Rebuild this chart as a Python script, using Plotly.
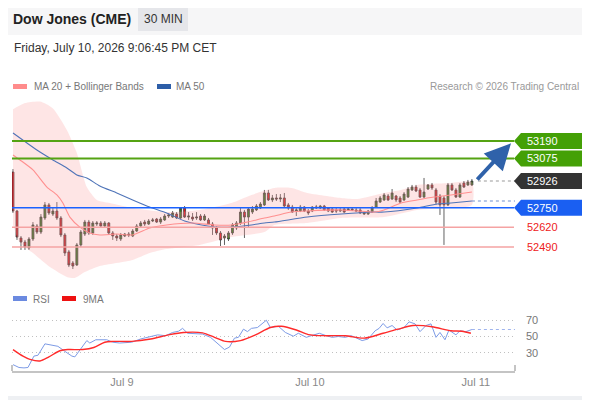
import plotly.graph_objects as go

FONT = "Liberation Sans, Arial, sans-serif"
# the page puts the plot 8px in from the top left corner of the window,
# so the figure fills the rest of the 590x400 window
OFF = 8
W, H = 590 - OFF, 400 - OFF

# 30 min candles, Dow Jones futures (CME), last candle Jul 10 ~21:00 CET
open_ = [52985, 52728, 52550, 52523, 52484, 52543, 52629, 52589, 52682, 52768,
         52708, 52728, 52682, 52570, 52458, 52385, 52372, 52504, 52576, 52655,
         52583, 52642, 52649, 52629, 52649, 52583, 52563, 52543, 52563, 52576,
         52563, 52596, 52629, 52655, 52642, 52662, 52675, 52655, 52669, 52695,
         52688, 52708, 52682, 52748, 52688, 52688, 52682, 52695, 52669, 52669,
         52642, 52616, 52583, 52550, 52543, 52583, 52616, 52649, 52721, 52688,
         52721, 52735, 52748, 52768, 52847, 52801, 52814, 52807, 52814, 52768,
         52754, 52728, 52728, 52754, 52728, 52728, 52748, 52748, 52761, 52748,
         52741, 52735, 52728, 52741, 52735, 52741, 52735, 52735, 52708, 52708,
         52721, 52754, 52787, 52801, 52827, 52807, 52827, 52814, 52801, 52820,
         52867, 52886, 52867, 52820, 52873, 52900, 52867, 52827, 52814, 52768,
         52900, 52867, 52820, 52913, 52900, 52900]
high = [53005, 52735, 52563, 52537, 52556, 52655, 52642, 52708, 52787, 52781,
        52748, 52787, 52695, 52583, 52471, 52398, 52517, 52603, 52669, 52669,
        52662, 52662, 52662, 52662, 52655, 52596, 52576, 52583, 52583, 52589,
        52609, 52642, 52662, 52669, 52675, 52682, 52682, 52688, 52708, 52715,
        52728, 52721, 52754, 52761, 52721, 52715, 52721, 52708, 52708, 52682,
        52655, 52629, 52596, 52576, 52596, 52649, 52662, 52748, 52735, 52754,
        52761, 52774, 52787, 52867, 52867, 52834, 52840, 52840, 52847, 52781,
        52768, 52748, 52768, 52761, 52741, 52761, 52768, 52768, 52768, 52754,
        52748, 52748, 52748, 52748, 52754, 52754, 52748, 52748, 52728, 52735,
        52761, 52814, 52827, 52847, 52840, 52873, 52834, 52827, 52853, 52886,
        52900, 52900, 52880, 52946, 52906, 52913, 52880, 52840, 52827, 52913,
        52913, 52880, 52913, 52926, 52933, 52939]
low = [52715, 52537, 52471, 52471, 52471, 52530, 52576, 52576, 52669, 52702,
       52695, 52669, 52556, 52431, 52358, 52345, 52365, 52490, 52563, 52570,
       52570, 52629, 52616, 52616, 52570, 52537, 52530, 52530, 52556, 52556,
       52556, 52589, 52622, 52629, 52636, 52655, 52649, 52642, 52662, 52682,
       52682, 52675, 52675, 52682, 52669, 52662, 52669, 52662, 52662, 52636,
       52570, 52570, 52497, 52504, 52530, 52570, 52603, 52636, 52550, 52616,
       52708, 52728, 52741, 52761, 52794, 52787, 52794, 52787, 52754, 52735,
       52715, 52695, 52721, 52721, 52702, 52721, 52741, 52741, 52728, 52721,
       52715, 52715, 52721, 52715, 52728, 52728, 52721, 52708, 52702, 52702,
       52715, 52748, 52781, 52794, 52794, 52801, 52787, 52781, 52794, 52814,
       52860, 52853, 52814, 52814, 52867, 52867, 52768, 52702, 52504, 52761,
       52860, 52814, 52814, 52880, 52893, 52893]
close = [52728, 52556, 52523, 52490, 52543, 52636, 52589, 52688, 52768, 52715,
         52728, 52682, 52570, 52451, 52372, 52365, 52504, 52589, 52655, 52583,
         52649, 52649, 52629, 52649, 52583, 52563, 52550, 52570, 52576, 52570,
         52596, 52629, 52649, 52642, 52662, 52669, 52655, 52675, 52695, 52702,
         52715, 52682, 52748, 52688, 52695, 52675, 52688, 52669, 52695, 52642,
         52616, 52583, 52537, 52563, 52583, 52636, 52649, 52721, 52688, 52741,
         52741, 52761, 52774, 52847, 52801, 52814, 52807, 52814, 52761, 52748,
         52721, 52735, 52754, 52728, 52715, 52754, 52754, 52761, 52735, 52728,
         52721, 52728, 52735, 52721, 52741, 52735, 52728, 52715, 52715, 52728,
         52748, 52794, 52814, 52834, 52801, 52847, 52801, 52787, 52840, 52873,
         52886, 52860, 52820, 52853, 52900, 52880, 52787, 52768, 52768, 52900,
         52867, 52820, 52900, 52886, 52919, 52926]

# indicator lines (candle index, value)
ma20_idx = [0, 1.75, 5, 8.5, 11, 12.5, 14.25, 16.75, 19.25, 21.75, 26, 30, 34.25,
            38.5, 45, 50.5, 54.75, 58.75, 63, 65.5, 69.75, 73.75, 82.25, 86.25,
            90.5, 93, 97.25, 101.25, 105.5, 109.75, 115]
ma20 = [53098, 53065, 52999, 52886, 52834, 52781, 52688, 52622, 52583, 52570, 52576,
        52570, 52616, 52636, 52649, 52636, 52636, 52655, 52682, 52695, 52721, 52728,
        52735, 52728, 52721, 52735, 52781, 52801, 52820, 52834, 52853]

ma50_idx = [0, 3.5, 6.75, 10, 13.5, 16, 18.5, 21.75, 26, 30, 34.25, 38.5, 43, 48.75,
            51.25, 54.75, 59.75, 63, 65.5, 73.75, 82.25, 90.5, 93, 101.25, 106.25,
            109.75, 115]
ma50 = [53243, 53177, 53117, 53065, 53012, 52966, 52946, 52893, 52847, 52801, 52754,
        52715, 52662, 52629, 52622, 52622, 52636, 52649, 52655, 52688, 52708, 52721,
        52721, 52748, 52774, 52781, 52794]

bb_up_idx = [0, 3, 6.75, 10, 13.5, 16, 18.5, 21, 24.25, 30, 38.5, 46.75, 54.75,
             59.75, 65.5, 69.75, 73.75, 82.25, 86.25, 93, 97.25, 101.25, 109.75, 115]
bb_up = [53400, 53440, 53450, 53405, 53263, 53111, 52886, 52801, 52781, 52748, 52721,
         52735, 52781, 52834, 52880, 52880, 52847, 52814, 52807, 52847, 52867, 52900,
         52913, 52919]
bb_lo_idx = [0, 1.75, 5, 9.25, 13.5, 15.5, 18, 21.75, 30, 34.25, 38.5, 46.75, 54.75,
             63, 65.5, 73.75, 82.25, 93, 101.25, 109.75, 115]
bb_lo = [52636, 52517, 52451, 52358, 52293, 52286, 52325, 52365, 52405, 52451, 52477,
         52504, 52556, 52589, 52636, 52649, 52682, 52688, 52735, 52748, 52768]

rsi_idx = [0, 1.5, 2.75, 3.75, 5.25, 6.25, 8, 9.5, 11.25, 13.25, 14.75, 15.5, 17,
           18.5, 19.25, 20.75, 23.5, 25, 26.75, 29.75, 32, 34.5, 36.25, 38.25, 40,
           41.5, 42.5, 43.75, 47.5, 49.5, 51.25, 53, 54.25, 55.5, 56.5, 57.75, 58.75,
           59.75, 61.25, 62.5, 63.5, 64.5, 66.5, 68.25, 70.25, 71.5, 73.5, 74.75,
           76.75, 78.5, 80, 81.5, 83.25, 84.75, 86.25, 87.5, 89, 90.75, 91.75, 92.75,
           93.75, 95, 96.25, 98, 99.25, 100.75, 102, 103.5, 104.75, 106, 107, 108.25,
           109.25, 111, 112, 113.5, 115]
rsi = [15.5, 12, 11.5, 12, 26, 27, 41, 40, 38, 31, 26, 25, 35, 45, 42, 46, 46, 43, 42,
       43, 47, 49.6, 52, 51, 55, 56.5, 60, 54, 53, 49, 41, 34, 37, 48, 49, 59, 56, 60,
       61, 65.5, 70, 61, 62.6, 55, 50.4, 54, 49, 51, 54, 51, 49, 50, 49, 51, 48, 45,
       47, 57, 60, 66, 60.6, 63.5, 58, 61, 68, 65.5, 56, 63.5, 65.5, 49, 55, 46, 58,
       52, 57, 56, 58.6]
rsi_ma_idx = [0, 2.5, 4.25, 6.75, 9, 11.75, 13.75, 17.5, 20.25, 23, 25, 29.75, 34.5,
              39, 42.75, 47.5, 50.5, 53.25, 57, 60.75, 64.5, 67.25, 71, 74, 78.5,
              83.25, 88, 92.75, 96.5, 100.25, 105, 109.75, 112.5, 114.75]
rsi_ma = [34, 26, 22, 20, 25, 32.5, 34, 34, 36.5, 43, 44, 44, 47, 52, 55, 54.5, 49, 44,
          45, 52, 61, 62.6, 58, 52.4, 51, 51, 48, 54, 59, 63.5, 62, 57, 56.5, 54]

resistances = [53190, 53075]
pivot = 52750
supports = [52620, 52490]
target = 53190

x_ticks = [27.3, 74.4, 116.0]
x_labels = ["Jul 9", "Jul 10", "Jul 11"]
rsi_levels = [30, 50, 70]

X_RANGE = [-0.25, 125.8]


def px(x):
    # window pixel -> paper x
    return (x - OFF) / W


def py(y):
    # window pixel -> paper y
    return min(1, 1 - (y - OFF) / H)


fig = go.Figure()

# bollinger band area
fig.add_trace(go.Scatter(
    x=bb_up_idx + bb_lo_idx[::-1], y=bb_up + bb_lo[::-1],
    fill="toself", fillcolor="rgba(250,160,160,0.28)", mode="lines",
    line=dict(width=0, shape="spline", smoothing=0.6), hoverinfo="skip"))
fig.add_trace(go.Scatter(x=ma50_idx, y=ma50, mode="lines",
                         line=dict(color="#4f74b8", width=1.1, shape="spline", smoothing=0.6)))
fig.add_trace(go.Scatter(x=ma20_idx, y=ma20, mode="lines",
                         line=dict(color="#ff8f8f", width=1.1, shape="spline", smoothing=0.6)))

fig.add_trace(go.Candlestick(
    x=list(range(len(close))), open=open_, high=high, low=low, close=close,
    increasing=dict(line=dict(color="#3a3a3a", width=0.8), fillcolor="#2d7d1c"),
    decreasing=dict(line=dict(color="#3a3a3a", width=0.8), fillcolor="#e8141c"),
    whiskerwidth=0, hoverinfo="skip"))

# RSI panel
fig.add_trace(go.Scatter(x=rsi_idx, y=rsi, yaxis="y2", mode="lines",
                         line=dict(color="#7d9be6", width=1)))
fig.add_trace(go.Scatter(x=rsi_ma_idx, y=rsi_ma, yaxis="y2", mode="lines",
                         line=dict(color="#ff2b2b", width=1.4, shape="spline", smoothing=0.8)))

shapes = []
annotations = []

# header strip and frame
shapes.append(dict(type="rect", xref="paper", yref="paper", x0=0, x1=1, y0=py(35), y1=1,
                   fillcolor="#f6f6f7", line=dict(width=0), layer="below"))
shapes.append(dict(type="rect", xref="paper", yref="paper", x0=px(138), x1=px(188),
                   y0=py(31), y1=py(7), fillcolor="#e5e6ea", line=dict(width=0), layer="below"))
shapes.append(dict(type="rect", xref="paper", yref="paper", x0=0, x1=1, y0=0, y1=py(396),
                   fillcolor="#eef0f3", line=dict(width=0), layer="below"))
shapes.append(dict(type="rect", xref="paper", yref="paper", x0=px(587), x1=1, y0=0, y1=1,
                   fillcolor="#eef0f3", line=dict(width=0), layer="below"))

annotations.append(dict(text="<b>Dow Jones (CME)</b>", x=px(11), y=py(19), xanchor="left",
                        font=dict(size=14, color="#222")))
annotations.append(dict(text="30 MIN", x=px(163), y=py(19), xanchor="center",
                        font=dict(size=12, color="#333")))
annotations.append(dict(text="Friday, July 10, 2026 9:06:45 PM CET", x=px(12), y=py(48),
                        xanchor="left", font=dict(size=12, color="#333")))

# legends
shapes.append(dict(type="rect", xref="paper", yref="paper", x0=px(13), x1=px(27),
                   y0=py(89), y1=py(84), fillcolor="#ff8c8c", line=dict(width=0)))
annotations.append(dict(text="MA 20 + Bollinger Bands", x=px(32), y=py(86), xanchor="left",
                        font=dict(size=10, color="#777")))
shapes.append(dict(type="rect", xref="paper", yref="paper", x0=px(157), x1=px(171),
                   y0=py(89), y1=py(84), fillcolor="#2d5ea8", line=dict(width=0)))
annotations.append(dict(text="MA 50", x=px(174), y=py(86), xanchor="left",
                        font=dict(size=10, color="#777")))
annotations.append(dict(text="Research © 2026 Trading Central", x=px(581), y=py(86),
                        xanchor="right", font=dict(size=10, color="#999")))

shapes.append(dict(type="rect", xref="paper", yref="paper", x0=px(13), x1=px(27),
                   y0=py(301), y1=py(296), fillcolor="#6b8ae0", line=dict(width=0)))
annotations.append(dict(text="RSI", x=px(31), y=py(299), xanchor="left",
                        font=dict(size=10, color="#777")))
shapes.append(dict(type="rect", xref="paper", yref="paper", x0=px(62), x1=px(76),
                   y0=py(301), y1=py(296), fillcolor="#ee1111", line=dict(width=0)))
annotations.append(dict(text="9MA", x=px(81), y=py(299), xanchor="left",
                        font=dict(size=10, color="#777")))

# horizontal levels
for lv in resistances:
    shapes.append(dict(type="line", xref="paper", yref="y", x0=px(12), x1=px(514),
                       y0=lv, y1=lv, line=dict(color="#55a313", width=2)))
shapes.append(dict(type="line", xref="paper", yref="y", x0=px(12), x1=px(514),
                   y0=pivot, y1=pivot, line=dict(color="#1a62ff", width=1.5)))
for lv in supports:
    shapes.append(dict(type="line", xref="paper", yref="y", x0=px(12), x1=px(514),
                       y0=lv, y1=lv, line=dict(color="#f5a3a3", width=1.5)))

# dotted projections of last price and MA50
last_i = len(close) - 1
shapes.append(dict(type="line", xref="x", yref="y", x0=last_i + 1.5, x1=X_RANGE[1],
                   y0=close[-1], y1=close[-1], line=dict(color="#999", width=1.2, dash="dot")))
shapes.append(dict(type="line", xref="x", yref="y", x0=ma50_idx[-1], x1=X_RANGE[1],
                   y0=ma50[-1], y1=ma50[-1], line=dict(color="#6f8fcf", width=1.2, dash="dot")))
shapes.append(dict(type="line", xref="x", yref="y2", x0=rsi_idx[-1], x1=X_RANGE[1],
                   y0=rsi[-1], y1=rsi[-1], line=dict(color="#9fb4ee", width=1.2, dash="dot")))

# right side price tags
HALF = 52.8
tags = [(resistances[0], "#44a006"), (resistances[1], "#44a006"),
        (close[-1], "#333333"), (pivot, "#1a5ff2")]
for val, col in tags:
    path = "M {a},{t} L {b},{t} L {b},{bt} L {a},{bt} L {tip},{m} Z".format(
        a=px(521), b=px(587), tip=px(514), t=val + HALF, bt=val - HALF, m=val)
    shapes.append(dict(type="path", xref="paper", yref="y", path=path,
                       fillcolor=col, line=dict(width=0)))
    annotations.append(dict(text=str(val), x=px(525), y=val, yref="y", xanchor="left",
                            font=dict(size=11, color="white")))
for lv in supports:
    annotations.append(dict(text=str(lv), x=px(525), y=lv, yref="y", xanchor="left",
                            font=dict(size=11, color="#ee2020")))

# target arrow
annotations.append(dict(x=124.8, y=target - 15, xref="x", yref="y", ax=last_i + 1,
                        ay=close[-1], axref="x", ayref="y", text="", showarrow=True,
                        arrowhead=2, arrowsize=1.3, arrowwidth=4, arrowcolor="#2f62aa",
                        standoff=0))

# end brackets of the time axis
for xe in (12, 515):
    shapes.append(dict(type="line", xref="paper", yref="paper", x0=px(xe), x1=px(xe),
                       y0=py(371), y1=py(365), line=dict(color="#c4c4c4", width=2)))

for a in annotations:
    a.setdefault("xref", "paper")
    a.setdefault("yref", "paper")
    a.setdefault("showarrow", False)
    a.setdefault("yanchor", "middle")

fig.update_layout(
    width=W, height=H,
    margin=dict(l=0, r=0, t=0, b=0),
    paper_bgcolor="white", plot_bgcolor="rgba(0,0,0,0)",
    showlegend=False, hovermode=False,
    font=dict(family=FONT),
    shapes=shapes, annotations=annotations,
    xaxis=dict(domain=[px(12), px(515)], range=X_RANGE, anchor="y2",
               rangeslider=dict(visible=False), showgrid=False, zeroline=False,
               showline=True, linecolor="#c4c4c4", linewidth=2,
               tickmode="array", tickvals=x_ticks, ticktext=x_labels,
               tickfont=dict(size=11, color="#888"), ticks=""),
    yaxis=dict(domain=[py(285), py(95)], range=[52239.6, 53493.6],
               visible=False, fixedrange=True),
    yaxis2=dict(domain=[py(371), py(305)], range=[7.7, 88.65], side="right",
                anchor="x", tickmode="array", tickvals=rsi_levels,
                showgrid=True, gridcolor="#c0c0c0", griddash="1px,3px", gridwidth=1,
                zeroline=False, showline=False, ticks="", ticklabelstandoff=10,
                tickfont=dict(size=11, color="#777")),
)

fig.write_html("out.html")
